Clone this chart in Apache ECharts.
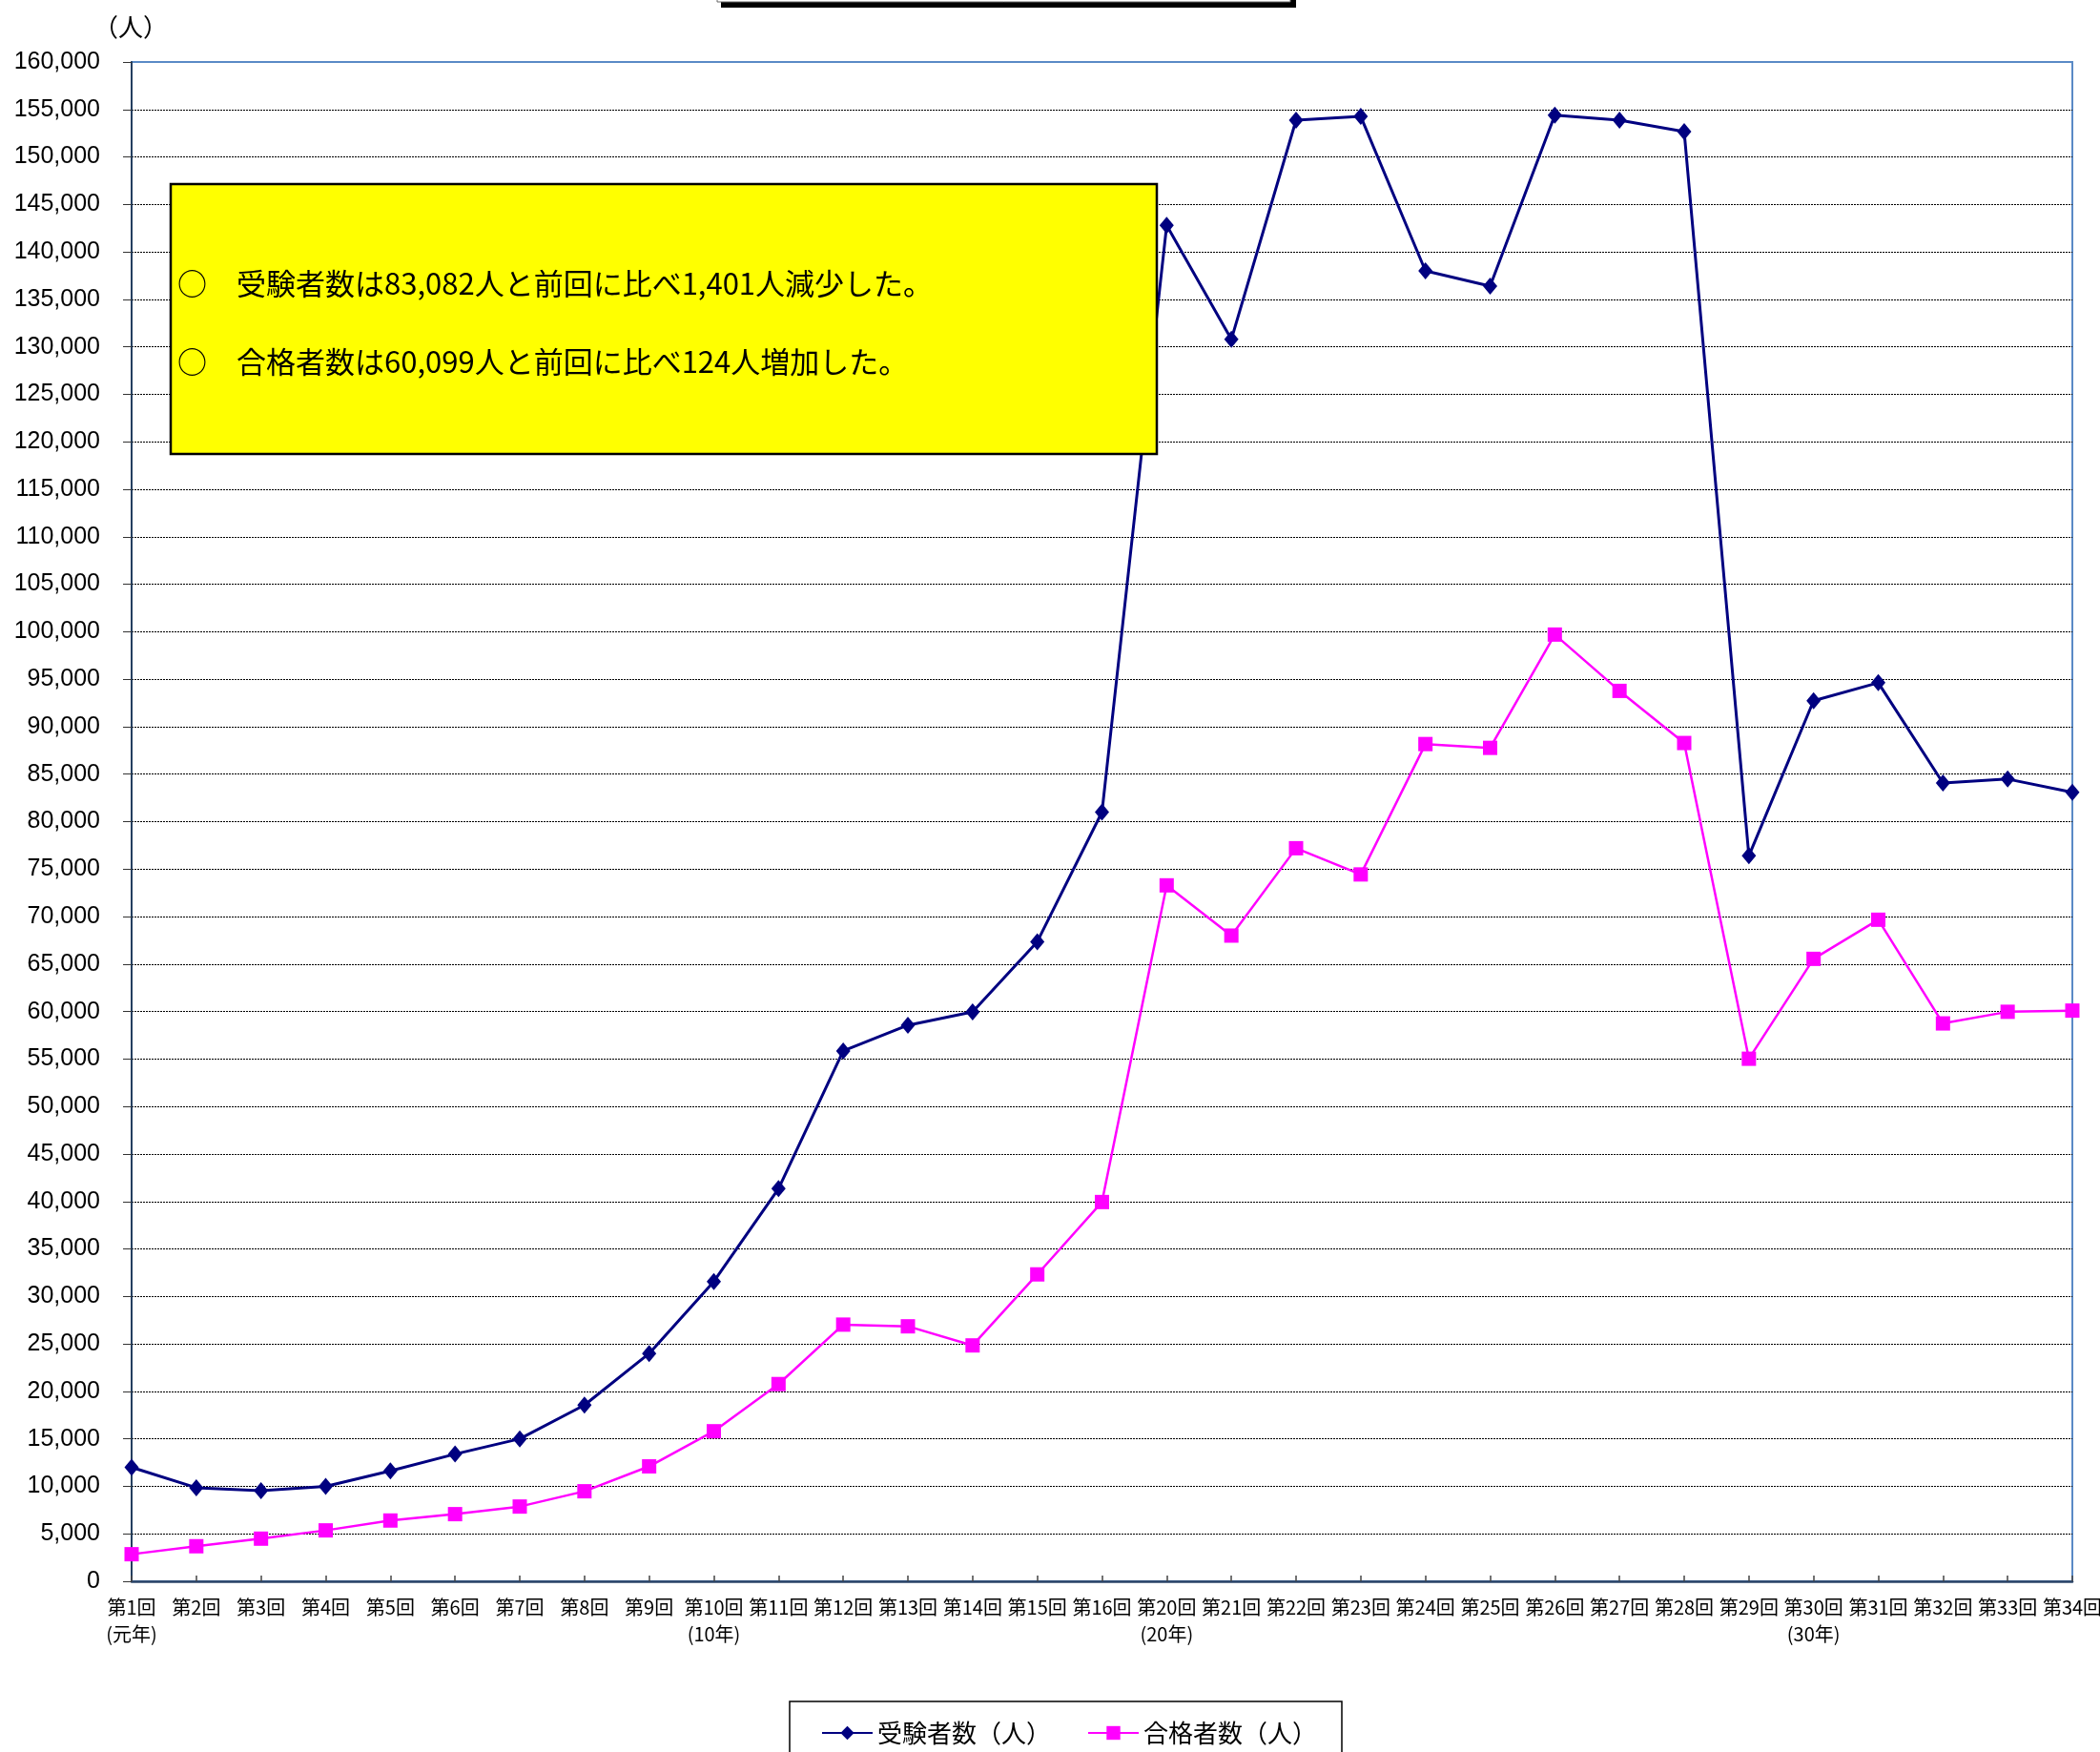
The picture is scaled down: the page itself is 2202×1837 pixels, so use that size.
<!DOCTYPE html>
<html>
<head>
<meta charset="utf-8">
<title>受験者数・合格者数の推移</title>
<script src="https://cdn.jsdelivr.net/npm/echarts@6/dist/echarts.min.js"></script>
<style>
  html, body { margin: 0; padding: 0; background: #fff; }
  #line-chart { width: 2202px; height: 1837px; }
</style>
</head>
<body>
<div id="line-chart"></div>
<script>
// categories (第17〜19回 are not on the chart)
const categories = [
  "第1回\n(元年)", "第2回", "第3回", "第4回", "第5回", "第6回", "第7回", "第8回", "第9回",
  "第10回\n(10年)", "第11回", "第12回", "第13回", "第14回", "第15回", "第16回",
  "第20回\n(20年)", "第21回", "第22回", "第23回", "第24回", "第25回", "第26回", "第27回",
  "第28回", "第29回", "第30回\n(30年)", "第31回", "第32回", "第33回", "第34回"
];

const examinees = [
  12000, 9850, 9550, 9990, 11630, 13400, 15000, 18560, 23990,
  31570, 41350, 55850, 58560, 59960, 67350, 81000,
  142790, 130790, 153870, 154270, 138000, 136400, 154400, 153870,
  152660, 76400, 92730, 94630, 84070, 84483, 83082
];

const passers = [
  2850, 3690, 4490, 5360, 6400, 7070, 7870, 9480, 12100,
  15800, 20770, 27030, 26850, 24840, 32320, 39940,
  73290, 68000, 77200, 74440, 88170, 87770, 99700, 93770,
  88280, 55030, 65550, 69670, 58750, 59975, 60099
];

const seriesNames = ["受験者数（人）", "合格者数（人）"];

const yMin = 0;
const yMax = 160000;
const yStep = 5000;

const notes = [
  "○　受験者数は83,082人と前回に比べ1,401人減少した。",
  "○　合格者数は60,099人と前回に比べ124人増加した。"
];

const JP = '"Noto Sans CJK JP", sans-serif';
const NUM = '"Liberation Sans", Arial, sans-serif';

function addCommas(v) {
  return String(v).replace(/\B(?=(\d{3})+(?!\d))/g, ",");
}

const chart = echarts.init(document.getElementById("line-chart"));

const option = {
  backgroundColor: "#fff",
  animation: false,
  grid: {
    left: 138,
    right: 29,
    top: 65,
    bottom: 179,
    outerBoundsMode: "none",
    containLabel: false,
    show: true,
    borderColor: "#5a8ac6",
    borderWidth: 2,
  },
  legend: {
    data: seriesNames,
    left: 828,
    top: 1784,
    padding: [20, 26, 20, 33],
    itemWidth: 53,
    itemHeight: 18,
    itemGap: 38,
    borderColor: "#000",
    borderWidth: 1.5,
    backgroundColor: "#fff",
    textStyle: { fontFamily: JP, fontSize: 26, color: "#000" },
  },
  xAxis: {
    type: "category",
    boundaryGap: false,
    data: categories,
    axisLine: { lineStyle: { color: "#2b4468", width: 2.5 } },
    axisTick: {
      inside: true,
      length: 6,
      interval: 0,
      lineStyle: { color: "#444", width: 1.5 },
    },
    axisLabel: {
      interval: 0,
      margin: 13,
      fontFamily: JP,
      fontSize: 20,
      lineHeight: 28,
      color: "#000",
    },
    splitLine: { show: false },
  },
  yAxis: {
    type: "value",
    min: yMin,
    max: yMax,
    interval: yStep,
    axisLine: { show: true, lineStyle: { color: "#243f60", width: 2 } },
    axisTick: { show: true, length: 9, lineStyle: { color: "#333", width: 1 } },
    axisLabel: {
      margin: 33,
      fontFamily: NUM,
      fontSize: 25,
      color: "#000",
      formatter: (v) => addCommas(v),
    },
    splitLine: {
      show: true,
      showMinLine: false,
      showMaxLine: false,
      lineStyle: { color: "#000", type: [2, 1], width: 1 },
    },
  },
  series: [
    {
      name: seriesNames[0],
      type: "line",
      data: examinees,
      symbol: "diamond",
      symbolSize: [15, 18],
      showSymbol: true,
      showAllSymbol: true,
      color: "#000080",
      lineStyle: { color: "#000080", width: 3 },
      itemStyle: { color: "#000080" },
      z: 3,
    },
    {
      name: seriesNames[1],
      type: "line",
      data: passers,
      symbol: "rect",
      symbolSize: 15,
      showSymbol: true,
      showAllSymbol: true,
      color: "#ff00ff",
      lineStyle: { color: "#ff00ff", width: 2.5 },
      itemStyle: { color: "#ff00ff" },
      z: 2,
    },
  ],
  graphic: [
    // title box cut off at the top edge
    {
      type: "rect",
      z: 100,
      shape: { x: 756, y: -20, width: 603, height: 28 },
      style: { fill: "#000" },
    },
    {
      type: "rect",
      z: 101,
      shape: { x: 752, y: -20, width: 601, height: 22 },
      style: { fill: "#fff", stroke: "#666", lineWidth: 1 },
    },
    // unit label
    {
      type: "text",
      z: 100,
      x: 137,
      y: 28,
      style: {
        text: "（人）",
        font: '26px "Noto Sans CJK JP"',
        fill: "#000",
        align: "center",
        verticalAlign: "middle",
        textAlign: "center",
        textVerticalAlign: "middle",
      },
    },
    // yellow note box
    {
      type: "rect",
      z: 100,
      shape: { x: 179, y: 193, width: 1034, height: 283 },
      style: { fill: "#ffff00", stroke: "#000", lineWidth: 2.5 },
    },
    {
      type: "text",
      z: 101,
      x: 186,
      y: 297,
      style: {
        text: notes[0],
        font: '31px "Noto Sans CJK JP"',
        fill: "#000",
        verticalAlign: "middle",
        textVerticalAlign: "middle",
      },
    },
    {
      type: "text",
      z: 101,
      x: 186,
      y: 379,
      style: {
        text: notes[1],
        font: '31px "Noto Sans CJK JP"',
        fill: "#000",
        verticalAlign: "middle",
        textVerticalAlign: "middle",
      },
    },
  ],
};

chart.setOption(option);

window.addEventListener("resize", () => {
  chart.resize();
});
</script>
</body>
</html>
